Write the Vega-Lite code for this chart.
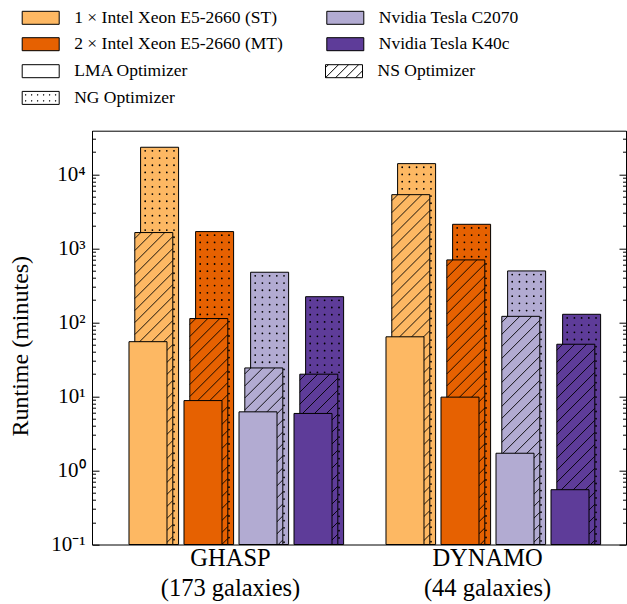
{
  "$schema": "https://vega.github.io/schema/vega-lite/v6.json",
  "width": 534,
  "height": 413.8,
  "autosize": {"type": "none"},
  "padding": {"left": 92, "top": 130.7, "right": 1, "bottom": 59.5},
  "config": {
    "font": "Liberation Serif",
    "view": {"stroke": "black", "strokeWidth": 1},
    "axis": {"domainColor": "black", "tickColor": "black", "labelColor": "black", "titleColor": "black", "grid": false, "labelFont": "Liberation Serif", "titleFont": "Liberation Serif", "titleFontWeight": "normal"},
    "legend": {"labelFont": "Liberation Serif", "labelColor": "black"}
  },
  "data": {"values": [
    {"dataset": "GHASP", "device": "1 × Intel Xeon E5-2660 (ST)", "optimizer": "LMA Optimizer", "runtime": 55},
    {"dataset": "GHASP", "device": "1 × Intel Xeon E5-2660 (ST)", "optimizer": "NS Optimizer", "runtime": 1640},
    {"dataset": "GHASP", "device": "1 × Intel Xeon E5-2660 (ST)", "optimizer": "NG Optimizer", "runtime": 23300},
    {"dataset": "GHASP", "device": "2 × Intel Xeon E5-2660 (MT)", "optimizer": "LMA Optimizer", "runtime": 8.8},
    {"dataset": "GHASP", "device": "2 × Intel Xeon E5-2660 (MT)", "optimizer": "NS Optimizer", "runtime": 113},
    {"dataset": "GHASP", "device": "2 × Intel Xeon E5-2660 (MT)", "optimizer": "NG Optimizer", "runtime": 1690},
    {"dataset": "GHASP", "device": "Nvidia Tesla C2070", "optimizer": "LMA Optimizer", "runtime": 6.2},
    {"dataset": "GHASP", "device": "Nvidia Tesla C2070", "optimizer": "NS Optimizer", "runtime": 24.3},
    {"dataset": "GHASP", "device": "Nvidia Tesla C2070", "optimizer": "NG Optimizer", "runtime": 477},
    {"dataset": "GHASP", "device": "Nvidia Tesla K40c", "optimizer": "LMA Optimizer", "runtime": 5.9},
    {"dataset": "GHASP", "device": "Nvidia Tesla K40c", "optimizer": "NS Optimizer", "runtime": 20},
    {"dataset": "GHASP", "device": "Nvidia Tesla K40c", "optimizer": "NG Optimizer", "runtime": 223},
    {"dataset": "DYNAMO", "device": "1 × Intel Xeon E5-2660 (ST)", "optimizer": "LMA Optimizer", "runtime": 64},
    {"dataset": "DYNAMO", "device": "1 × Intel Xeon E5-2660 (ST)", "optimizer": "NS Optimizer", "runtime": 5330},
    {"dataset": "DYNAMO", "device": "1 × Intel Xeon E5-2660 (ST)", "optimizer": "NG Optimizer", "runtime": 14000},
    {"dataset": "DYNAMO", "device": "2 × Intel Xeon E5-2660 (MT)", "optimizer": "LMA Optimizer", "runtime": 9.8},
    {"dataset": "DYNAMO", "device": "2 × Intel Xeon E5-2660 (MT)", "optimizer": "NS Optimizer", "runtime": 700},
    {"dataset": "DYNAMO", "device": "2 × Intel Xeon E5-2660 (MT)", "optimizer": "NG Optimizer", "runtime": 2120},
    {"dataset": "DYNAMO", "device": "Nvidia Tesla C2070", "optimizer": "LMA Optimizer", "runtime": 1.71},
    {"dataset": "DYNAMO", "device": "Nvidia Tesla C2070", "optimizer": "NS Optimizer", "runtime": 121},
    {"dataset": "DYNAMO", "device": "Nvidia Tesla C2070", "optimizer": "NG Optimizer", "runtime": 497},
    {"dataset": "DYNAMO", "device": "Nvidia Tesla K40c", "optimizer": "LMA Optimizer", "runtime": 0.55},
    {"dataset": "DYNAMO", "device": "Nvidia Tesla K40c", "optimizer": "NS Optimizer", "runtime": 50.8},
    {"dataset": "DYNAMO", "device": "Nvidia Tesla K40c", "optimizer": "NG Optimizer", "runtime": 129}
  ]},
  "layer": [
    {
      "transform": [{"filter": "datum.optimizer == 'NG Optimizer'"}],
      "mark": {"type": "bar", "width": 38, "stroke": "black", "strokeWidth": 1},
      "encoding": {
        "x": {"field": "dataset", "type": "nominal", "sort": ["GHASP", "DYNAMO"], "scale": {"domain": ["GHASP", "DYNAMO"], "paddingInner": 0, "paddingOuter": 0.0389},
          "axis": {"title": null, "domain": false, "ticks": false, "labelAngle": 0, "labelFontSize": 24.5, "labelPadding": 2, "labelLineHeight": 30, "labelBaseline": "top",
            "labelExpr": "datum.value == 'GHASP' ? ['GHASP', '(173 galaxies)'] : ['DYNAMO', '(44 galaxies)']"}},
        "xOffset": {"field": "device", "type": "nominal", "scale": {"type": "band", "domain": ["1 × Intel Xeon E5-2660 (ST)", "2 × Intel Xeon E5-2660 (MT)", "Nvidia Tesla C2070", "Nvidia Tesla K40c"], "paddingInner": 0, "paddingOuter": 0.336, "align": 0.814}},
        "y": {"field": "runtime", "type": "quantitative", "scale": {"type": "log", "domain": [0.1, 39000], "nice": false},
          "axis": {"orient": "left", "title": "Runtime (minutes)", "titleFontSize": 24, "titlePadding": 18, "titleY": 215, "labelFontSize": 21, "labelPadding": 14, "tickWidth": 1,
            "values": [0.1, 0.2, 0.3, 0.4, 0.5, 0.6, 0.7, 0.8, 0.9, 1, 2, 3, 4, 5, 6, 7, 8, 9, 10, 20, 30, 40, 50, 60, 70, 80, 90, 100, 200, 300, 400, 500, 600, 700, 800, 900, 1000, 2000, 3000, 4000, 5000, 6000, 7000, 8000, 9000, 10000, 20000, 30000],
            "labelExpr": "datum.value == 0.1 ? '10⁻¹' : datum.value == 1 ? '10⁰' : datum.value == 10 ? '10¹' : datum.value == 100 ? '10²' : datum.value == 1000 ? '10³' : datum.value == 10000 ? '10⁴' : ''",
            "tickSize": {"condition": {"test": "datum.value == 0.1 || datum.value == 1 || datum.value == 10 || datum.value == 100 || datum.value == 1000 || datum.value == 10000", "value": -7}, "value": -3.5}}},
        "y2": {"datum": 0.1},
        "fill": {"field": "device", "type": "nominal",
          "scale": {"domain": ["1 × Intel Xeon E5-2660 (ST)", "Nvidia Tesla C2070", "2 × Intel Xeon E5-2660 (MT)", "Nvidia Tesla K40c"], "range": ["#fdb863", "#b2abd2", "#e66101", "#5e3c99"]},
          "legend": {"title": null, "orient": "none", "direction": "horizontal", "legendX": -64.8, "legendY": -126.4, "columns": 2, "columnPadding": 41.6, "rowPadding": 4.4,
            "values": ["1 × Intel Xeon E5-2660 (ST)", "Nvidia Tesla C2070", "2 × Intel Xeon E5-2660 (MT)", "Nvidia Tesla K40c"],
            "symbolType": "M-1.423,-0.5H1.423V0.5H-1.423Z", "symbolSize": 676, "symbolStrokeColor": "black", "symbolStrokeWidth": 1, "symbolOpacity": 1,
            "labelFontSize": 17.5, "labelOffset": 20, "labelLimit": 400}}
      }
    },
    {
      "transform": [{"filter": "datum.optimizer == 'NG Optimizer'"}],
      "mark": {"type": "point", "shape": "M-14.4,3.6V440M-7.2,3.6V440M0,3.6V440M7.2,3.6V440M14.4,3.6V440", "size": 4, "filled": false, "stroke": "black", "strokeWidth": 1.8, "strokeDash": [0.01, 7.19], "strokeCap": "round", "opacity": 1, "clip": true},
      "encoding": {
        "x": {"field": "dataset", "type": "nominal", "sort": ["GHASP", "DYNAMO"]},
        "xOffset": {"field": "device", "type": "nominal", "scale": {"type": "band", "domain": ["1 × Intel Xeon E5-2660 (ST)", "2 × Intel Xeon E5-2660 (MT)", "Nvidia Tesla C2070", "Nvidia Tesla K40c"], "paddingInner": 0, "paddingOuter": 0.336, "align": 0.814}},
        "y": {"field": "runtime", "type": "quantitative", "scale": {"type": "log", "domain": [0.1, 39000], "nice": false},
          "axis": {"orient": "right", "title": null, "labels": false, "tickWidth": 1,
            "values": [0.1, 0.2, 0.3, 0.4, 0.5, 0.6, 0.7, 0.8, 0.9, 1, 2, 3, 4, 5, 6, 7, 8, 9, 10, 20, 30, 40, 50, 60, 70, 80, 90, 100, 200, 300, 400, 500, 600, 700, 800, 900, 1000, 2000, 3000, 4000, 5000, 6000, 7000, 8000, 9000, 10000, 20000, 30000],
            "tickSize": {"condition": {"test": "datum.value == 0.1 || datum.value == 1 || datum.value == 10 || datum.value == 100 || datum.value == 1000 || datum.value == 10000", "value": -7}, "value": -3.5}}}
      }
    },
    {
      "transform": [{"filter": "datum.optimizer == 'NS Optimizer'"}],
      "mark": {"type": "bar", "width": 38, "stroke": "black", "strokeWidth": 1},
      "encoding": {
        "x": {"field": "dataset", "type": "nominal", "sort": ["GHASP", "DYNAMO"]},
        "xOffset": {"field": "device", "type": "nominal", "scale": {"type": "band", "domain": ["1 × Intel Xeon E5-2660 (ST)", "2 × Intel Xeon E5-2660 (MT)", "Nvidia Tesla C2070", "Nvidia Tesla K40c"], "paddingInner": 0, "paddingOuter": 0.336, "align": 0.657}},
        "y": {"field": "runtime", "type": "quantitative", "axis": null},
        "y2": {"datum": 0.1},
        "fill": {"field": "device", "type": "nominal", "scale": {"domain": ["1 × Intel Xeon E5-2660 (ST)", "Nvidia Tesla C2070", "2 × Intel Xeon E5-2660 (MT)", "Nvidia Tesla K40c"], "range": ["#fdb863", "#b2abd2", "#e66101", "#5e3c99"]}}
      }
    },
    {
      "transform": [{"filter": "datum.optimizer == 'NS Optimizer'"}],
      "mark": {"type": "point", "shape": "M-19,6L-13,0M-19,18L-1,0M-19,30L11,0M-19,42L19,4M-19,54L19,16M-19,66L19,28M-19,78L19,40M-19,90L19,52M-19,102L19,64M-19,114L19,76M-19,126L19,88M-19,138L19,100M-19,150L19,112M-19,162L19,124M-19,174L19,136M-19,186L19,148M-19,198L19,160M-19,210L19,172M-19,222L19,184M-19,234L19,196M-19,246L19,208M-19,258L19,220M-19,270L19,232M-19,282L19,244M-19,294L19,256M-19,306L19,268M-19,318L19,280M-19,330L19,292M-19,342L19,304M-19,354L19,316M-19,366L19,328M-19,378L19,340M-19,390L19,352M-19,402L19,364M-19,414L19,376M-19,426L19,388M-19,438L19,400M-19,450L19,412M-19,462L19,424", "size": 4, "filled": false, "stroke": "black", "strokeWidth": 0.9, "opacity": 1, "clip": true},
      "encoding": {
        "x": {"field": "dataset", "type": "nominal", "sort": ["GHASP", "DYNAMO"]},
        "xOffset": {"field": "device", "type": "nominal", "scale": {"type": "band", "domain": ["1 × Intel Xeon E5-2660 (ST)", "2 × Intel Xeon E5-2660 (MT)", "Nvidia Tesla C2070", "Nvidia Tesla K40c"], "paddingInner": 0, "paddingOuter": 0.336, "align": 0.657}},
        "y": {"field": "runtime", "type": "quantitative", "axis": null}
      }
    },
    {
      "transform": [{"filter": "datum.optimizer == 'LMA Optimizer'"}],
      "mark": {"type": "bar", "width": 38, "stroke": "black", "strokeWidth": 1},
      "encoding": {
        "x": {"field": "dataset", "type": "nominal", "sort": ["GHASP", "DYNAMO"]},
        "xOffset": {"field": "device", "type": "nominal", "scale": {"type": "band", "domain": ["1 × Intel Xeon E5-2660 (ST)", "2 × Intel Xeon E5-2660 (MT)", "Nvidia Tesla C2070", "Nvidia Tesla K40c"], "paddingInner": 0, "paddingOuter": 0.336, "align": 0.5}},
        "y": {"field": "runtime", "type": "quantitative", "axis": null},
        "y2": {"datum": 0.1},
        "fill": {"field": "device", "type": "nominal", "scale": {"domain": ["1 × Intel Xeon E5-2660 (ST)", "Nvidia Tesla C2070", "2 × Intel Xeon E5-2660 (MT)", "Nvidia Tesla K40c"], "range": ["#fdb863", "#b2abd2", "#e66101", "#5e3c99"]}}
      }
    },
    {
      "transform": [{"filter": "false"}],
      "mark": {"type": "point", "filled": true, "fill": "white", "stroke": "black", "strokeWidth": 1, "size": 676},
      "encoding": {
        "x": {"field": "dataset", "type": "nominal", "sort": ["GHASP", "DYNAMO"]},
        "xOffset": {"field": "device", "type": "nominal", "scale": {"type": "band", "domain": ["1 × Intel Xeon E5-2660 (ST)", "2 × Intel Xeon E5-2660 (MT)", "Nvidia Tesla C2070", "Nvidia Tesla K40c"], "paddingInner": 0, "paddingOuter": 0.336}},
        "y": {"field": "runtime", "type": "quantitative", "axis": null},
        "stroke": {"field": "optimizer", "type": "nominal",
          "scale": {"domain": ["LMA Optimizer"], "range": ["black"]},
          "legend": {"title": null, "orient": "none", "legendX": -64.8, "legendY": -73, "values": ["LMA Optimizer"],
            "symbolType": "M-1.423,-0.5H1.423V0.5H-1.423Z",
            "symbolSize": 676, "symbolFillColor": "white", "symbolStrokeColor": "black", "symbolStrokeWidth": 1, "symbolOpacity": 1,
            "labelFontSize": 17.5, "labelOffset": 20, "labelLimit": 400}},
        "color": {"field": "optimizer", "type": "nominal",
          "scale": {"domain": ["NG Optimizer"], "range": ["white"]},
          "legend": {"title": null, "orient": "none", "legendX": -64.8, "legendY": -46.3, "values": ["NG Optimizer"],
            "symbolType": "M-1.423,-0.5H1.423V0.5H-1.423ZM-1.17,-0.25h0.04v0.04h-0.04ZM-0.71,-0.25h0.04v0.04h-0.04ZM-0.25,-0.25h0.04v0.04h-0.04ZM0.21,-0.25h0.04v0.04h-0.04ZM0.67,-0.25h0.04v0.04h-0.04ZM1.13,-0.25h0.04v0.04h-0.04ZM-1.17,0.21h0.04v0.04h-0.04ZM-0.71,0.21h0.04v0.04h-0.04ZM-0.25,0.21h0.04v0.04h-0.04ZM0.21,0.21h0.04v0.04h-0.04ZM0.67,0.21h0.04v0.04h-0.04ZM1.13,0.21h0.04v0.04h-0.04Z",
            "symbolSize": 676, "symbolFillColor": "white", "symbolStrokeColor": "black", "symbolStrokeWidth": 1, "symbolOpacity": 1,
            "labelFontSize": 17.5, "labelOffset": 20, "labelLimit": 400}}
      }
    },
    {
      "transform": [{"filter": "false"}],
      "mark": {"type": "point", "filled": true, "fill": "white", "stroke": "black", "strokeWidth": 1, "size": 676},
      "encoding": {
        "x": {"field": "dataset", "type": "nominal", "sort": ["GHASP", "DYNAMO"]},
        "xOffset": {"field": "device", "type": "nominal", "scale": {"type": "band", "domain": ["1 × Intel Xeon E5-2660 (ST)", "2 × Intel Xeon E5-2660 (MT)", "Nvidia Tesla C2070", "Nvidia Tesla K40c"], "paddingInner": 0, "paddingOuter": 0.336}},
        "y": {"field": "runtime", "type": "quantitative", "axis": null},
        "color": {"field": "optimizer", "type": "nominal",
          "scale": {"domain": ["NS Optimizer"], "range": ["white"]},
          "legend": {"title": null, "orient": "none", "legendX": 238.5, "legendY": -73, "values": ["NS Optimizer"],
            "symbolType": "M-1.423,-0.5H1.423V0.5H-1.423ZM-1.423,0.5L-0.423,-0.5M-0.65,0.5L0.35,-0.5M0.123,0.5L1.123,-0.5M0.896,0.5L1.423,-0.027M-1.423,-0.273L-1.196,-0.5",
            "symbolSize": 676, "symbolFillColor": "white", "symbolStrokeColor": "black", "symbolStrokeWidth": 1, "symbolOpacity": 1,
            "labelFontSize": 17.5, "labelOffset": 20, "labelLimit": 400}}
      }
    }
  ],
  "resolve": {"axis": {"y": "independent"}, "scale": {"xOffset": "independent", "color": "independent"}}
}
